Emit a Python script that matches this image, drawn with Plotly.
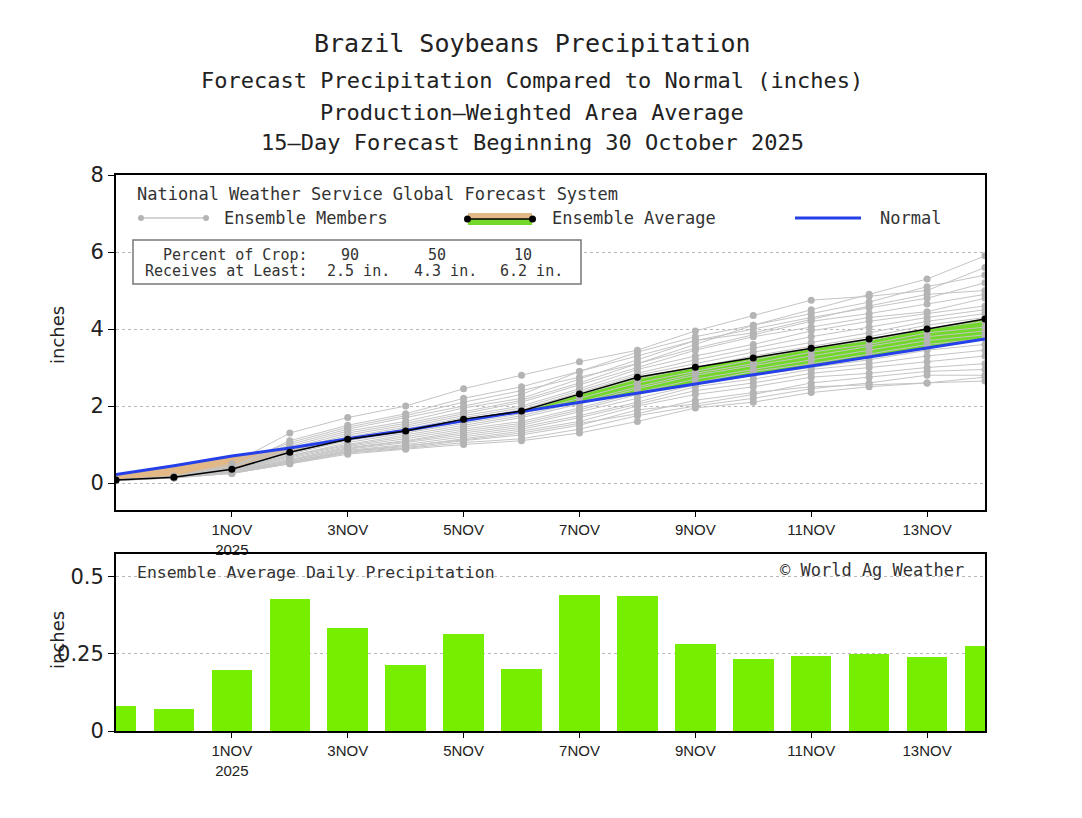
"""Brazil soybeans 15-day forecast precipitation vs normal (GEFS ensemble)."""

import numpy as np
import pandas as pd
import plotly.graph_objects as go

# ------------------------------------------------------------------
# Data (inches), one value per day from 30 Oct 2025 to 14 Nov 2025
# ------------------------------------------------------------------
DAYS = pd.date_range("2025-10-30", "2025-11-14", freq="D")

ens_avg = [0.08, 0.15, 0.36, 0.80, 1.14, 1.35, 1.66, 1.87,
           2.31, 2.75, 3.01, 3.25, 3.50, 3.74, 4.00, 4.26]
normal = [0.22, 0.45, 0.70, 0.91, 1.15, 1.37, 1.62, 1.86,
          2.10, 2.34, 2.58, 2.81, 3.04, 3.27, 3.50, 3.74]
daily_avg = [0.082, 0.071, 0.197, 0.428, 0.334, 0.213, 0.313, 0.200,
             0.439, 0.437, 0.280, 0.232, 0.242, 0.250, 0.240, 0.275]

members = [
    [0.08, 0.18, 0.45, 1.05, 1.45, 1.75, 2.10, 2.40, 2.75, 3.10, 3.60, 4.10, 4.50, 4.90, 5.30, 5.90],
    [0.08, 0.17, 0.50, 1.30, 1.70, 2.00, 2.45, 2.80, 3.15, 3.45, 3.95, 4.35, 4.75, 4.85, 5.00, 5.60],
    [0.07, 0.15, 0.40, 1.00, 1.40, 1.70, 2.00, 2.30, 2.90, 3.40, 3.80, 4.10, 4.40, 4.70, 5.10, 5.40],
    [0.08, 0.16, 0.42, 0.95, 1.35, 1.60, 1.95, 2.20, 2.70, 3.20, 3.70, 4.00, 4.30, 4.55, 4.80, 5.20],
    [0.06, 0.14, 0.35, 0.90, 1.30, 1.55, 1.85, 2.15, 2.60, 3.10, 3.50, 3.85, 4.20, 4.40, 4.65, 4.90],
    [0.08, 0.16, 0.38, 0.85, 1.25, 1.50, 1.80, 2.10, 2.55, 3.00, 3.45, 3.80, 4.05, 4.30, 4.45, 4.80],
    [0.07, 0.15, 0.36, 0.80, 1.20, 1.45, 1.75, 2.00, 2.45, 2.95, 3.30, 3.60, 3.95, 4.20, 4.40, 4.60],
    [0.08, 0.15, 0.34, 0.78, 1.15, 1.40, 1.70, 1.95, 2.40, 2.85, 3.20, 3.50, 3.80, 4.05, 4.30, 4.50],
    [0.08, 0.16, 0.37, 0.82, 1.18, 1.38, 1.65, 1.90, 2.35, 2.80, 3.10, 3.40, 3.65, 3.90, 4.20, 4.40],
    [0.07, 0.14, 0.33, 0.75, 1.10, 1.33, 1.60, 1.85, 2.30, 2.70, 3.00, 3.30, 3.55, 3.80, 4.10, 4.30],
    [0.08, 0.15, 0.35, 0.70, 1.05, 1.30, 1.55, 1.80, 2.20, 2.60, 2.90, 3.20, 3.50, 3.70, 4.00, 4.20],
    [0.08, 0.16, 0.32, 0.72, 1.00, 1.25, 1.50, 1.75, 2.10, 2.50, 2.85, 3.10, 3.40, 3.60, 3.90, 4.05],
    [0.07, 0.14, 0.30, 0.68, 0.98, 1.20, 1.45, 1.70, 2.05, 2.45, 2.80, 3.05, 3.30, 3.55, 3.80, 3.95],
    [0.08, 0.15, 0.33, 0.65, 0.95, 1.15, 1.40, 1.60, 1.95, 2.35, 2.70, 2.95, 3.20, 3.45, 3.70, 3.85],
    [0.08, 0.16, 0.31, 0.62, 0.92, 1.10, 1.35, 1.55, 1.90, 2.30, 2.60, 2.90, 3.10, 3.35, 3.60, 3.75],
    [0.07, 0.14, 0.29, 0.60, 0.90, 1.08, 1.30, 1.50, 1.85, 2.20, 2.55, 2.80, 3.00, 3.20, 3.45, 3.60],
    [0.08, 0.15, 0.30, 0.58, 0.88, 1.05, 1.25, 1.45, 1.75, 2.10, 2.50, 2.70, 2.95, 3.10, 3.30, 3.45],
    [0.08, 0.15, 0.28, 0.55, 0.85, 1.00, 1.20, 1.40, 1.70, 2.05, 2.40, 2.60, 2.85, 3.00, 3.15, 3.30],
    [0.07, 0.14, 0.27, 0.53, 0.82, 0.95, 1.15, 1.35, 1.60, 2.00, 2.30, 2.50, 2.75, 2.85, 3.00, 3.10],
    [0.08, 0.15, 0.26, 0.52, 0.80, 0.92, 1.10, 1.25, 1.50, 1.90, 2.05, 2.30, 2.60, 2.75, 2.90, 2.95],
    [0.08, 0.14, 0.25, 0.50, 0.78, 0.90, 1.05, 1.15, 1.40, 1.75, 2.00, 2.20, 2.45, 2.60, 2.80, 2.80],
    [0.07, 0.13, 0.25, 0.50, 0.75, 0.88, 1.00, 1.10, 1.30, 1.60, 1.95, 2.10, 2.35, 2.50, 2.60, 2.75],
    [0.08, 0.15, 0.28, 0.56, 0.83, 0.97, 1.12, 1.30, 1.55, 1.80, 2.15, 2.35, 2.50, 2.55, 2.60, 2.65],
    [0.08, 0.16, 0.40, 1.10, 1.50, 1.80, 2.20, 2.50, 2.90, 3.30, 3.70, 3.90, 4.25, 4.60, 4.90, 5.00],
]

tick_dates = ["2025-11-01", "2025-11-03", "2025-11-05", "2025-11-07",
              "2025-11-09", "2025-11-11", "2025-11-13"]
tick_text = ["1NOV<br>2025", "3NOV", "5NOV", "7NOV", "9NOV", "11NOV", "13NOV"]

crop_pct = ["90", "50", "10"]
crop_amt = ["2.5 in.", "4.3 in.", "6.2 in."]

# ------------------------------------------------------------------
# Layout geometry (pixels of the 1082x818 page; body has an 8px margin)
# ------------------------------------------------------------------
W, H = 1082, 818
OFF = 8
L, R = 116, 985          # plot left / right
TOP, BOT = 175, 731      # top of upper plot / bottom of lower plot


def px(x):
    return (x - L) / (R - L)


def py(y):
    return (BOT - y) / (BOT - TOP)


FONT = "DejaVu Sans"
MONO = "DejaVu Sans Mono"
TICKFONT = "Liberation Sans Narrow, Liberation Sans, Arial Narrow"
GREEN = "#72d92a"
TAN = "#e2b887"
BAR_GREEN = "#76ee00"
BLUE = "#2540e8"
MEMBER_LINE = "#c4c4c4"
MEMBER_DOT = "#b4b4b4"

fig = go.Figure()

# ---- fill between ensemble average and normal ----
avg = np.array(ens_avg)
nrm = np.array(normal)
lower = np.minimum(avg, nrm)
upper = np.maximum(avg, nrm)

fig.add_trace(go.Scatter(x=DAYS, y=nrm, mode="lines", line=dict(width=0),
                         showlegend=False, hoverinfo="skip"))
fig.add_trace(go.Scatter(x=DAYS, y=lower, mode="lines", line=dict(width=0),
                         fill="tonexty", fillcolor=TAN,
                         showlegend=False, hoverinfo="skip"))
fig.add_trace(go.Scatter(x=DAYS, y=nrm, mode="lines", line=dict(width=0),
                         showlegend=False, hoverinfo="skip"))
fig.add_trace(go.Scatter(x=DAYS, y=upper, mode="lines", line=dict(width=0),
                         fill="tonexty", fillcolor=GREEN,
                         showlegend=False, hoverinfo="skip"))

# ---- ensemble members ----
for m in members:
    fig.add_trace(go.Scatter(
        x=DAYS, y=m, mode="lines+markers",
        line=dict(color=MEMBER_LINE, width=1),
        marker=dict(color=MEMBER_DOT, size=7),
        showlegend=False, hoverinfo="skip",
    ))

# ---- normal + ensemble average ----
fig.add_trace(go.Scatter(
    x=DAYS, y=normal, mode="lines", name="Normal",
    line=dict(color=BLUE, width=3), showlegend=False,
))
fig.add_trace(go.Scatter(
    x=DAYS, y=ens_avg, mode="lines+markers", name="Ensemble Average",
    line=dict(color="black", width=1.5),
    marker=dict(color="black", size=7), showlegend=False,
))

# ---- daily bars ----
fig.add_trace(go.Bar(
    x=DAYS, y=daily_avg, width=0.7 * 86400000,
    marker=dict(color=BAR_GREEN, line=dict(width=0)),
    xaxis="x2", yaxis="y2", showlegend=False,
))

# ------------------------------------------------------------------
# Axes
# ------------------------------------------------------------------
x_common = dict(
    type="date", range=["2025-10-30", "2025-11-14"],
    tickvals=tick_dates, ticktext=tick_text,
    tickfont=dict(family=TICKFONT, size=15, color="#222"),
    ticks="outside", ticklen=5, tickcolor="black",
    showgrid=False, showline=True, linecolor="black", linewidth=2,
    mirror=True, zeroline=False,
)
y_common = dict(
    ticks="outside", ticklen=6, tickcolor="black",
    tickfont=dict(family=FONT, size=21, color="#222"),
    showline=True, linecolor="black", linewidth=2, mirror=True,
    gridcolor="#b8b8b8", griddash="dot", gridwidth=1, zeroline=False,
)

top_lo = py(510)
bot_hi = py(554)

fig.update_layout(
    width=W - OFF, height=H - OFF,
    margin=dict(l=L - OFF, r=W - R, t=TOP - OFF, b=H - BOT),
    paper_bgcolor="white", plot_bgcolor="white",
    font=dict(family=FONT, color="#222"),
    bargap=0,
    xaxis=dict(domain=[0, 1], anchor="y", **x_common),
    yaxis=dict(domain=[top_lo, 1], anchor="x", range=[-0.7, 8],
               tickvals=[0, 2, 4, 6, 8], **y_common),
    xaxis2=dict(domain=[0, 1], anchor="y2", **x_common),
    yaxis2=dict(domain=[0, bot_hi], anchor="x2", range=[0, 0.572],
                tickvals=[0, 0.25, 0.5], ticktext=["0", "0.25", "0.5"],
                **y_common),
)

# ------------------------------------------------------------------
# Titles and texts
# ------------------------------------------------------------------
ann = []


def text(x, y, s, size, xanchor="center", color="#222", family=MONO, **kw):
    ann.append(dict(x=px(x), y=py(y), xref="paper", yref="paper", text=s,
                    showarrow=False, xanchor=xanchor, yanchor="middle",
                    font=dict(family=family, size=size, color=color), **kw))


text(532, 44, "Brazil Soybeans Precipitation", 25)
text(532, 81, "Forecast Precipitation Compared to Normal (inches)", 22)
text(532, 112, "Production\u2014Weighted Area Average", 22)
text(532, 143, "15\u2014Day Forecast Beginning 30 October 2025", 22)

text(57, 335, "inches", 18, family=FONT, textangle=-90)
text(57, 640, "inches", 18, family=FONT, textangle=-90)

# legend block in the upper plot
text(135, 194, "National Weather Service Global Forecast System", 17, xanchor="left", color="#333")
text(222, 218, "Ensemble Members", 17, xanchor="left", color="#333")
text(550, 218, "Ensemble Average", 17, xanchor="left", color="#333")
text(878, 218, "Normal", 17, xanchor="left", color="#333")

text(310, 255, "Percent of Crop:", 15, xanchor="right", color="#333")
text(310, 271, "Receives at Least:", 15, xanchor="right", color="#333")
for cx, p, a in zip([350, 437, 523], crop_pct, crop_amt):
    text(cx, 255, p, 15, color="#333")
    text(cx + 8, 271, a, 15, color="#333")

# lower plot labels
text(135, 572, "Ensemble Average Daily Precipitation", 16.5, xanchor="left", color="#333")
text(966, 570, "\u00a9 World Ag Weather", 17, xanchor="right", color="#333")

fig.update_layout(annotations=ann)

# legend glyphs
shapes = [
    # crop box
    dict(type="rect", xref="paper", yref="paper",
         x0=px(133), x1=px(581), y0=py(240), y1=py(284),
         line=dict(color="#777", width=1.5), fillcolor="white"),
    # members sample
    dict(type="line", xref="paper", yref="paper",
         x0=px(141), x1=px(206), y0=py(218), y1=py(218),
         line=dict(color=MEMBER_LINE, width=1.5)),
    dict(type="circle", xref="paper", yref="paper",
         x0=px(138), x1=px(144), y0=py(215), y1=py(221),
         fillcolor=MEMBER_DOT, line=dict(width=0)),
    dict(type="circle", xref="paper", yref="paper",
         x0=px(203), x1=px(209), y0=py(215), y1=py(221),
         fillcolor=MEMBER_DOT, line=dict(width=0)),
    # average sample: tan over green with black line
    dict(type="rect", xref="paper", yref="paper",
         x0=px(468), x1=px(532), y0=py(213), y1=py(219),
         fillcolor=TAN, line=dict(width=0)),
    dict(type="rect", xref="paper", yref="paper",
         x0=px(468), x1=px(532), y0=py(219), y1=py(225),
         fillcolor=GREEN, line=dict(width=0)),
    dict(type="line", xref="paper", yref="paper",
         x0=px(468), x1=px(532), y0=py(219), y1=py(219),
         line=dict(color="black", width=1.5)),
    dict(type="circle", xref="paper", yref="paper",
         x0=px(464), x1=px(471), y0=py(215.5), y1=py(222.5),
         fillcolor="black", line=dict(width=0)),
    dict(type="circle", xref="paper", yref="paper",
         x0=px(529), x1=px(536), y0=py(215.5), y1=py(222.5),
         fillcolor="black", line=dict(width=0)),
    # normal sample
    dict(type="line", xref="paper", yref="paper",
         x0=px(795), x1=px(861), y0=py(218), y1=py(218),
         line=dict(color=BLUE, width=3)),
]
fig.update_layout(shapes=shapes)

fig.write_html("out.html")
